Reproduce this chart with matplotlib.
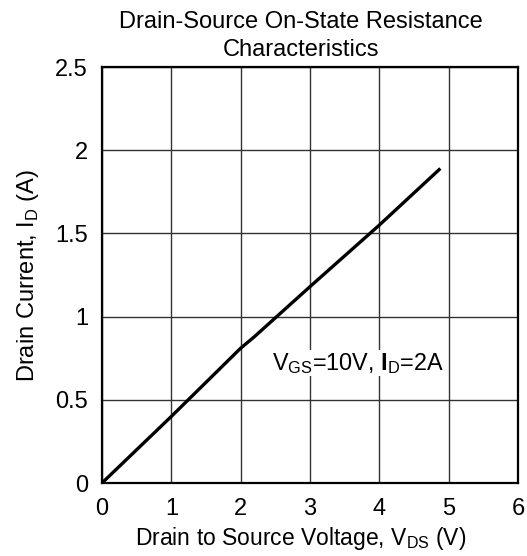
import numpy as np
import matplotlib
matplotlib.use("Agg")
from matplotlib import pyplot as plt

plt.rcParams['font.family'] = ['Liberation Sans', 'DejaVu Sans']
plt.rcParams['mathtext.fontset'] = 'custom'
plt.rcParams['mathtext.rm'] = 'Liberation Sans'
plt.rcParams['mathtext.bf'] = 'Liberation Sans:bold'

# 曲线数据
vds = [0, 1, 2, 2.2, 3, 4, 4.88]
idr = [0, 0.40, 0.81, 0.88, 1.18, 1.55, 1.89]

xticks = [0, 1, 2, 3, 4, 5, 6]
yticks = [0, 0.5, 1, 1.5, 2, 2.5]
yticklabels = ['0', '0.5', '1', '1.5', '2', '2.5']

fig = plt.figure(figsize=(5.27, 5.56), dpi=100)
ax = fig.add_axes([102 / 527, 1 - 483 / 556, 416 / 527, 416 / 556])

ax.plot(vds, idr, color='black', linewidth=2.4, solid_capstyle='butt')

ax.set_xlim(0, 6)
ax.set_ylim(0, 2.5)
ax.set_xticks(xticks)
ax.set_yticks(yticks)
ax.set_yticklabels(yticklabels)
ax.tick_params(length=0, labelsize=17)
ax.tick_params(axis='x', pad=11)
ax.tick_params(axis='y', pad=10)
ax.grid(True, color='#333333', linewidth=1.0)
for s in ax.spines.values():
    s.set_linewidth(1.6)
    s.set_color('black')

ax.text(2.45, 0.72, r'V$_{\mathrm{GS}}$=10V, $\mathbf{I}$$_{\mathrm{D}}$=2A',
        fontsize=16.8, va='center', ha='left',
        bbox=dict(facecolor='white', edgecolor='none', pad=0.5))

ax.set_xlabel(r'Drain to Source Voltage, V$_{\mathrm{DS}}$ (V)', fontsize=16.5)
ax.xaxis.set_label_coords(0.478, -0.102)
ax.set_ylabel(r'Drain Current, I$_{\mathrm{D}}$ (A)', fontsize=17, labelpad=10)

fig.text(301 / 527, 1 - 22 / 556, 'Drain-Source On-State Resistance', fontsize=17,
         ha='center', va='center')
fig.text(301 / 527, 1 - 50 / 556, 'Characteristics', fontsize=17,
         ha='center', va='center')

fig.savefig('out.png', dpi=100)
